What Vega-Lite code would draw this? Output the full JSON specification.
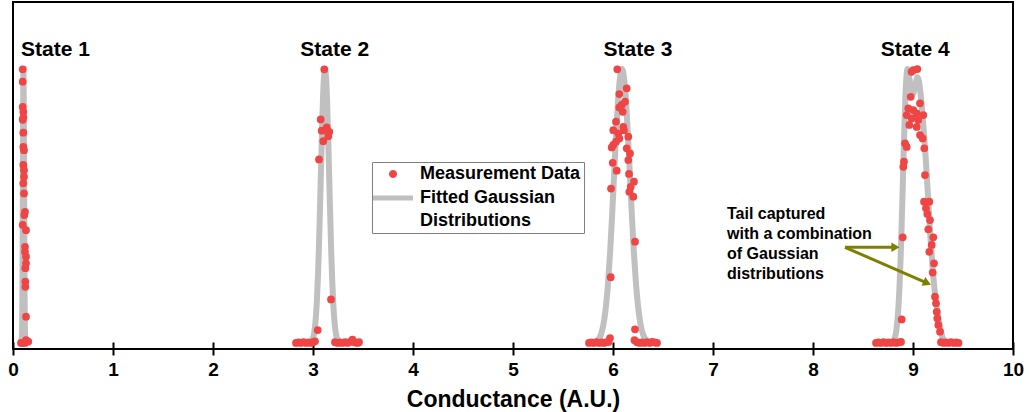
{
  "$schema": "https://vega.github.io/schema/vega-lite/v6.json",
  "width": 1000,
  "height": 347,
  "autosize": {"type": "none"},
  "padding": {"left": 13, "top": 2, "right": 16, "bottom": 63},
  "background": "white",
  "config": {
    "view": {"stroke": "black", "strokeWidth": 2},
    "font": "Liberation Sans"
  },
  "datasets": {
    "curves": [
      {"state": 1, "x": 0.08, "y": 0}, {"state": 1, "x": 0.085, "y": 0.004}, {"state": 1, "x": 0.089, "y": 0.029},
      {"state": 1, "x": 0.093, "y": 0.135}, {"state": 1, "x": 0.097, "y": 0.411}, {"state": 1, "x": 0.101, "y": 0.801},
      {"state": 1, "x": 0.105, "y": 1}, {"state": 1, "x": 0.109, "y": 0.801}, {"state": 1, "x": 0.113, "y": 0.411},
      {"state": 1, "x": 0.117, "y": 0.135}, {"state": 1, "x": 0.121, "y": 0.029}, {"state": 1, "x": 0.125, "y": 0.004},
      {"state": 1, "x": 0.13, "y": 0},

      {"state": 2, "x": 2.97, "y": 0.0017}, {"state": 2, "x": 2.98, "y": 0.0039}, {"state": 2, "x": 2.99, "y": 0.0083},
      {"state": 2, "x": 3.0, "y": 0.0169}, {"state": 2, "x": 3.01, "y": 0.0324}, {"state": 2, "x": 3.02, "y": 0.0588},
      {"state": 2, "x": 3.03, "y": 0.1007}, {"state": 2, "x": 3.04, "y": 0.163}, {"state": 2, "x": 3.05, "y": 0.249},
      {"state": 2, "x": 3.06, "y": 0.36}, {"state": 2, "x": 3.07, "y": 0.492}, {"state": 2, "x": 3.08, "y": 0.635},
      {"state": 2, "x": 3.09, "y": 0.775}, {"state": 2, "x": 3.1, "y": 0.893}, {"state": 2, "x": 3.11, "y": 0.972},
      {"state": 2, "x": 3.12, "y": 1}, {"state": 2, "x": 3.13, "y": 0.972}, {"state": 2, "x": 3.14, "y": 0.893},
      {"state": 2, "x": 3.15, "y": 0.775}, {"state": 2, "x": 3.16, "y": 0.635}, {"state": 2, "x": 3.17, "y": 0.492},
      {"state": 2, "x": 3.18, "y": 0.36}, {"state": 2, "x": 3.19, "y": 0.249}, {"state": 2, "x": 3.2, "y": 0.163},
      {"state": 2, "x": 3.21, "y": 0.1007}, {"state": 2, "x": 3.22, "y": 0.0588}, {"state": 2, "x": 3.23, "y": 0.0324},
      {"state": 2, "x": 3.24, "y": 0.0169}, {"state": 2, "x": 3.25, "y": 0.0083}, {"state": 2, "x": 3.26, "y": 0.0039},
      {"state": 2, "x": 3.27, "y": 0.0017},

      {"state": 3, "x": 5.79, "y": 0.0009}, {"state": 3, "x": 5.81, "y": 0.0022}, {"state": 3, "x": 5.83, "y": 0.0051},
      {"state": 3, "x": 5.85, "y": 0.0111}, {"state": 3, "x": 5.87, "y": 0.0228}, {"state": 3, "x": 5.89, "y": 0.0439},
      {"state": 3, "x": 5.91, "y": 0.0796}, {"state": 3, "x": 5.93, "y": 0.1353}, {"state": 3, "x": 5.95, "y": 0.2163},
      {"state": 3, "x": 5.97, "y": 0.3247}, {"state": 3, "x": 5.99, "y": 0.458}, {"state": 3, "x": 6.01, "y": 0.6065},
      {"state": 3, "x": 6.03, "y": 0.755}, {"state": 3, "x": 6.05, "y": 0.8825}, {"state": 3, "x": 6.07, "y": 0.969},
      {"state": 3, "x": 6.09, "y": 1}, {"state": 3, "x": 6.11, "y": 0.969}, {"state": 3, "x": 6.13, "y": 0.8825},
      {"state": 3, "x": 6.15, "y": 0.755}, {"state": 3, "x": 6.17, "y": 0.6065}, {"state": 3, "x": 6.19, "y": 0.458},
      {"state": 3, "x": 6.21, "y": 0.3247}, {"state": 3, "x": 6.23, "y": 0.2163}, {"state": 3, "x": 6.25, "y": 0.1353},
      {"state": 3, "x": 6.27, "y": 0.0796}, {"state": 3, "x": 6.29, "y": 0.0439}, {"state": 3, "x": 6.31, "y": 0.0228},
      {"state": 3, "x": 6.33, "y": 0.0111}, {"state": 3, "x": 6.35, "y": 0.0051}, {"state": 3, "x": 6.37, "y": 0.0022},
      {"state": 3, "x": 6.39, "y": 0.0009},

      {"state": 4, "x": 8.775, "y": 0.0008}, {"state": 4, "x": 8.795, "y": 0.0039}, {"state": 4, "x": 8.805, "y": 0.0079},
      {"state": 4, "x": 8.815, "y": 0.0154}, {"state": 4, "x": 8.825, "y": 0.0286}, {"state": 4, "x": 8.835, "y": 0.0504},
      {"state": 4, "x": 8.845, "y": 0.0846}, {"state": 4, "x": 8.855, "y": 0.135}, {"state": 4, "x": 8.865, "y": 0.206},
      {"state": 4, "x": 8.875, "y": 0.298}, {"state": 4, "x": 8.885, "y": 0.411}, {"state": 4, "x": 8.895, "y": 0.539},
      {"state": 4, "x": 8.905, "y": 0.674}, {"state": 4, "x": 8.915, "y": 0.801}, {"state": 4, "x": 8.925, "y": 0.906},
      {"state": 4, "x": 8.935, "y": 0.976}, {"state": 4, "x": 8.945, "y": 1}, {"state": 4, "x": 8.96, "y": 0.975},
      {"state": 4, "x": 8.98, "y": 0.93}, {"state": 4, "x": 9.0, "y": 0.91}, {"state": 4, "x": 9.02, "y": 0.935},
      {"state": 4, "x": 9.045, "y": 0.97}, {"state": 4, "x": 9.06, "y": 0.955}, {"state": 4, "x": 9.08, "y": 0.895},
      {"state": 4, "x": 9.1, "y": 0.81}, {"state": 4, "x": 9.12, "y": 0.715}, {"state": 4, "x": 9.14, "y": 0.6},
      {"state": 4, "x": 9.16, "y": 0.47}, {"state": 4, "x": 9.18, "y": 0.355}, {"state": 4, "x": 9.2, "y": 0.255},
      {"state": 4, "x": 9.22, "y": 0.18}, {"state": 4, "x": 9.24, "y": 0.125}, {"state": 4, "x": 9.26, "y": 0.08},
      {"state": 4, "x": 9.28, "y": 0.042}, {"state": 4, "x": 9.3, "y": 0.015}, {"state": 4, "x": 9.32, "y": 0.004},
      {"state": 4, "x": 9.34, "y": 0}
    ],
    "measurements": [
      {"x": 0.097, "y": 0.999}, {"x": 0.097, "y": 0.954}, {"x": 0.097, "y": 0.862}, {"x": 0.103, "y": 0.844},
      {"x": 0.103, "y": 0.824}, {"x": 0.097, "y": 0.815}, {"x": 0.103, "y": 0.768}, {"x": 0.103, "y": 0.716},
      {"x": 0.11, "y": 0.704}, {"x": 0.103, "y": 0.65}, {"x": 0.11, "y": 0.631}, {"x": 0.11, "y": 0.607},
      {"x": 0.103, "y": 0.583}, {"x": 0.11, "y": 0.546}, {"x": 0.12, "y": 0.479}, {"x": 0.113, "y": 0.467},
      {"x": 0.097, "y": 0.431}, {"x": 0.13, "y": 0.412}, {"x": 0.12, "y": 0.351}, {"x": 0.12, "y": 0.333},
      {"x": 0.13, "y": 0.315}, {"x": 0.13, "y": 0.291}, {"x": 0.123, "y": 0.273}, {"x": 0.123, "y": 0.224},
      {"x": 0.123, "y": 0.205}, {"x": 0.13, "y": 0.096}, {"x": 0.08, "y": 0}, {"x": 0.097, "y": 0},
      {"x": 0.12, "y": 0}, {"x": 0.13, "y": 0.01}, {"x": 0.153, "y": 0.005},

      {"x": 3.113, "y": 0.999}, {"x": 3.077, "y": 0.816}, {"x": 3.087, "y": 0.775}, {"x": 3.137, "y": 0.787},
      {"x": 3.163, "y": 0.771}, {"x": 3.153, "y": 0.755}, {"x": 3.103, "y": 0.737}, {"x": 3.13, "y": 0.777},
      {"x": 3.06, "y": 0.67}, {"x": 3.18, "y": 0.159}, {"x": 3.047, "y": 0.047},
      {"x": 2.83, "y": 0}, {"x": 2.855, "y": 0.002}, {"x": 2.88, "y": 0}, {"x": 2.905, "y": 0.003},
      {"x": 2.93, "y": 0}, {"x": 2.955, "y": 0.002}, {"x": 2.98, "y": 0}, {"x": 3.005, "y": 0.004},
      {"x": 3.02, "y": 0.006},
      {"x": 3.22, "y": 0.003}, {"x": 3.245, "y": 0}, {"x": 3.27, "y": 0.002}, {"x": 3.295, "y": 0},
      {"x": 3.32, "y": 0.003}, {"x": 3.345, "y": 0}, {"x": 3.37, "y": 0.004}, {"x": 3.395, "y": 0.012},
      {"x": 3.42, "y": 0.002}, {"x": 3.445, "y": 0}, {"x": 3.46, "y": 0.003},

      {"x": 6.043, "y": 0.999}, {"x": 6.137, "y": 0.93}, {"x": 6.063, "y": 0.909}, {"x": 6.12, "y": 0.881},
      {"x": 6.087, "y": 0.869}, {"x": 6.063, "y": 0.86}, {"x": 6.097, "y": 0.844}, {"x": 6.03, "y": 0.808},
      {"x": 6.103, "y": 0.789}, {"x": 6.003, "y": 0.777}, {"x": 6.11, "y": 0.777}, {"x": 6.053, "y": 0.765},
      {"x": 6.153, "y": 0.753}, {"x": 6.063, "y": 0.747}, {"x": 6.03, "y": 0.735}, {"x": 6.003, "y": 0.723},
      {"x": 5.987, "y": 0.714}, {"x": 6.137, "y": 0.711}, {"x": 6.17, "y": 0.692}, {"x": 6.153, "y": 0.668},
      {"x": 5.997, "y": 0.658}, {"x": 6.037, "y": 0.629}, {"x": 6.16, "y": 0.617}, {"x": 6.21, "y": 0.589},
      {"x": 6.177, "y": 0.57}, {"x": 5.98, "y": 0.564}, {"x": 6.163, "y": 0.552}, {"x": 6.203, "y": 0.534},
      {"x": 6.22, "y": 0.37}, {"x": 5.977, "y": 0.24}, {"x": 6.22, "y": 0.05}, {"x": 5.97, "y": 0.018},
      {"x": 5.76, "y": 0}, {"x": 5.785, "y": 0.002}, {"x": 5.81, "y": 0}, {"x": 5.835, "y": 0.003},
      {"x": 5.86, "y": 0}, {"x": 5.885, "y": 0.002}, {"x": 5.91, "y": 0}, {"x": 5.935, "y": 0.003},
      {"x": 5.955, "y": 0.004},
      {"x": 6.215, "y": 0.01}, {"x": 6.24, "y": 0.003}, {"x": 6.265, "y": 0}, {"x": 6.29, "y": 0.002},
      {"x": 6.315, "y": 0}, {"x": 6.34, "y": 0.003}, {"x": 6.365, "y": 0}, {"x": 6.39, "y": 0.004},
      {"x": 6.415, "y": 0.002}, {"x": 6.44, "y": 0},

      {"x": 9.003, "y": 0.996}, {"x": 9.043, "y": 1.0}, {"x": 8.985, "y": 0.99}, {"x": 8.977, "y": 0.899},
      {"x": 9.07, "y": 0.875}, {"x": 8.953, "y": 0.857}, {"x": 9.003, "y": 0.85}, {"x": 9.037, "y": 0.838},
      {"x": 8.937, "y": 0.832}, {"x": 9.103, "y": 0.832}, {"x": 8.987, "y": 0.82}, {"x": 9.053, "y": 0.814},
      {"x": 8.963, "y": 0.796}, {"x": 9.037, "y": 0.789}, {"x": 9.07, "y": 0.759}, {"x": 9.097, "y": 0.747},
      {"x": 8.92, "y": 0.729}, {"x": 8.937, "y": 0.716}, {"x": 9.113, "y": 0.711}, {"x": 8.91, "y": 0.662},
      {"x": 8.903, "y": 0.643}, {"x": 9.12, "y": 0.613}, {"x": 9.11, "y": 0.516}, {"x": 9.163, "y": 0.516},
      {"x": 9.13, "y": 0.492}, {"x": 9.143, "y": 0.471}, {"x": 9.17, "y": 0.449}, {"x": 9.153, "y": 0.415},
      {"x": 9.203, "y": 0.386}, {"x": 8.897, "y": 0.386}, {"x": 9.187, "y": 0.358}, {"x": 9.163, "y": 0.333},
      {"x": 9.21, "y": 0.291}, {"x": 9.197, "y": 0.257}, {"x": 9.22, "y": 0.169}, {"x": 9.23, "y": 0.145},
      {"x": 9.237, "y": 0.114}, {"x": 9.243, "y": 0.09}, {"x": 9.253, "y": 0.066}, {"x": 9.27, "y": 0.041},
      {"x": 8.887, "y": 0.086},
      {"x": 8.63, "y": 0}, {"x": 8.655, "y": 0.002}, {"x": 8.68, "y": 0}, {"x": 8.705, "y": 0.003},
      {"x": 8.73, "y": 0}, {"x": 8.755, "y": 0.002}, {"x": 8.78, "y": 0}, {"x": 8.805, "y": 0.003},
      {"x": 8.83, "y": 0}, {"x": 8.855, "y": 0.002}, {"x": 8.88, "y": 0.004},
      {"x": 9.28, "y": 0.003}, {"x": 9.305, "y": 0}, {"x": 9.33, "y": 0.002}, {"x": 9.355, "y": 0},
      {"x": 9.38, "y": 0.003}, {"x": 9.405, "y": 0}, {"x": 9.43, "y": 0.002}, {"x": 9.455, "y": 0}
    ],
    "stateLabels": [
      {"x": 0.425, "y": 1.0485, "label": "State 1"},
      {"x": 3.217, "y": 1.0485, "label": "State 2"},
      {"x": 6.25, "y": 1.0485, "label": "State 3"},
      {"x": 9.023, "y": 1.0485, "label": "State 4"}
    ],
    "note": [
      {"x": 7.14, "y": 0.4515, "text": "Tail captured\nwith a combination\nof Gaussian\ndistributions"}
    ],
    "arrows": [
      {"id": "left", "x": 8.32, "y": 0.3493, "x2": 8.825, "y2": 0.3493},
      {"id": "right", "x": 8.32, "y": 0.3493, "x2": 9.142, "y2": 0.2186}
    ]
  },
  "encoding": {
    "x": {
      "field": "x",
      "type": "quantitative",
      "scale": {"domain": [0, 10], "nice": false, "zero": false},
      "axis": {
        "title": "Conductance (A.U.)",
        "values": [0, 1, 2, 3, 4, 5, 6, 7, 8, 9, 10],
        "format": "d",
        "grid": false,
        "domain": false,
        "offset": -7,
        "ticks": true,
        "tickSize": 13,
        "tickWidth": 2,
        "tickColor": "black",
        "labelFont": "Liberation Sans",
        "labelFontSize": 19,
        "labelFontWeight": "bold",
        "labelColor": "black",
        "labelPadding": 5,
        "labelFlush": false,
        "labelOverlap": false,
        "titleFont": "Liberation Sans",
        "titleFontSize": 23,
        "titleFontWeight": "bold",
        "titleColor": "black",
        "titlePadding": 9
      }
    },
    "y": {
      "field": "y",
      "type": "quantitative",
      "scale": {"domain": [-0.022, 1.245], "nice": false, "zero": false},
      "axis": null
    }
  },
  "layer": [
    {
      "data": {"name": "curves"},
      "mark": {"type": "line", "strokeWidth": 6, "interpolate": "monotone"},
      "encoding": {
        "detail": {"field": "state", "type": "nominal"},
        "color": {
          "datum": "Fitted Gaussian Distributions",
          "scale": {
            "domain": ["Measurement Data", "Fitted Gaussian Distributions"],
            "range": ["#F04545", "#C0C0C0"]
          },
          "legend": {
            "title": null,
            "orient": "none",
            "legendX": 359,
            "legendY": 160,
            "padding": 3,
            "fillColor": "white",
            "strokeColor": "#808080",
            "symbolType": "stroke",
            "symbolSize": 1600,
            "symbolStrokeWidth": 5,
            "symbolOffset": 9,
            "labelFont": "Liberation Sans",
            "labelFontSize": 18,
            "labelFontWeight": "bold",
            "labelColor": "black",
            "labelOffset": 18,
            "labelLimit": 300,
            "rowPadding": 5,
            "labelExpr": "datum.label === 'Fitted Gaussian Distributions' ? ['Fitted Gaussian', 'Distributions'] : datum.label",
            "encode": {
              "symbols": {
                "update": {
                  "shape": {"signal": "datum.value === 'Measurement Data' ? 'circle' : 'stroke'"},
                  "size": {"signal": "datum.value === 'Measurement Data' ? 50 : 1600"},
                  "strokeWidth": {"signal": "datum.value === 'Measurement Data' ? 1 : 5"}
                }
              },
              "labels": {
                "update": {
                  "lineHeight": {"value": 23}
                }
              }
            }
          }
        }
      }
    },
    {
      "data": {"name": "measurements"},
      "mark": {"type": "point", "filled": true, "size": 60, "opacity": 1},
      "encoding": {
        "color": {"datum": "Measurement Data"}
      }
    },
    {
      "data": {"name": "stateLabels"},
      "mark": {"type": "text", "fontSize": 21, "fontWeight": "bold", "baseline": "alphabetic", "align": "center", "color": "black"},
      "encoding": {"text": {"field": "label", "type": "nominal"}}
    },
    {
      "data": {"name": "note"},
      "mark": {"type": "text", "fontSize": 16, "fontWeight": "bold", "align": "left", "baseline": "alphabetic", "lineBreak": "\n", "lineHeight": 20, "color": "black"},
      "encoding": {"text": {"field": "text", "type": "nominal"}}
    },
    {
      "data": {"name": "arrows"},
      "mark": {"type": "rule", "color": "#808000", "strokeWidth": 3},
      "encoding": {
        "x2": {"field": "x2"},
        "y2": {"field": "y2"}
      }
    },
    {
      "data": {"name": "arrows"},
      "transform": [{"filter": "datum.id === 'left'"}],
      "mark": {"type": "point", "shape": "triangle-right", "filled": true, "size": 90, "color": "#808000", "opacity": 1, "angle": 0},
      "encoding": {
        "x": {"field": "x2", "type": "quantitative"},
        "y": {"field": "y2", "type": "quantitative"}
      }
    },
    {
      "data": {"name": "arrows"},
      "transform": [{"filter": "datum.id === 'right'"}],
      "mark": {"type": "point", "shape": "triangle-right", "filled": true, "size": 90, "color": "#808000", "opacity": 1, "angle": 23.5},
      "encoding": {
        "x": {"field": "x2", "type": "quantitative"},
        "y": {"field": "y2", "type": "quantitative"}
      }
    }
  ]
}
